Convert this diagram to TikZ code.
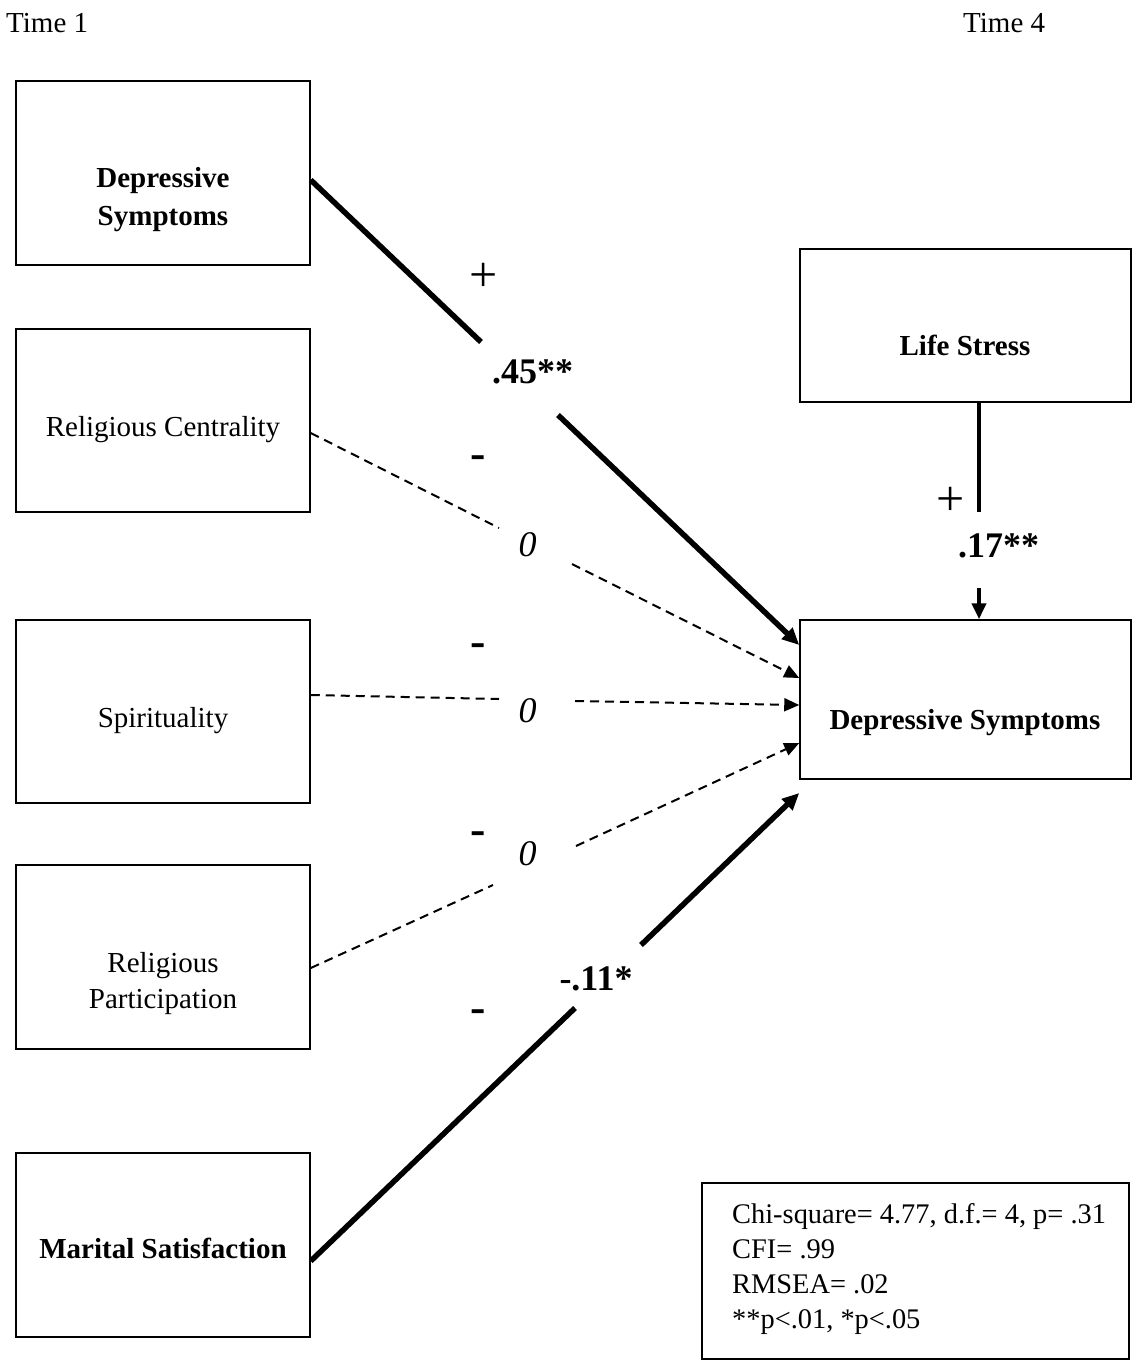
\documentclass[tikz,border=0pt]{standalone}
\usepackage{fontspec}
\setmainfont{Liberation Serif}
\usetikzlibrary{arrows.meta}
\begin{document}
\begin{tikzpicture}[x=1pt,y=-1pt,
  box/.style={draw=black,line width=1.5pt,inner sep=0pt},
  lbox/.style={box,minimum width=294pt},
  txt/.style={font=\fontsize{29}{35}\selectfont,inner sep=0pt,anchor=base},
  stxt/.style={font=\fontsize{28.4}{35}\selectfont,inner sep=0pt,anchor=base west},
  btxt/.style={font=\fontsize{29}{35}\selectfont\bfseries,inner sep=0pt,anchor=base},
  coef/.style={font=\fontsize{36}{40}\selectfont\bfseries,inner sep=0pt,anchor=base},
  zero/.style={font=\fontsize{36}{40}\selectfont\itshape,inner sep=0pt,anchor=base},
  plus/.style={font=\fontsize{50}{50}\selectfont,inner sep=0pt},
  neg/.style={font=\fontsize{46}{46}\selectfont\bfseries,inner sep=0pt,anchor=base},
  sol/.style={line width=5.5pt},
  das/.style={line width=2pt,dash pattern=on 9pt off 6pt},
  stip/.style={-{Triangle[length=17pt,width=15pt]}},
  dtip/.style={-{Triangle[length=15pt,width=13pt]}}]

\fill[white] (0,0) rectangle (1134,1363);
\useasboundingbox (0,0) rectangle (1134,1363);

% headers
\node[txt,anchor=base west] (time1) at (6,32) {Time 1};
\node[txt,anchor=base west] (time4) at (963,32) {Time 4};

% left boxes
\node[lbox,minimum height=184pt] (b1) at (163,173) {};
\node[lbox,minimum height=183pt] (b2) at (163,420.5) {};
\node[lbox,minimum height=183pt] (b3) at (163,711.5) {};
\node[lbox,minimum height=184pt] (b4) at (163,957) {};
\node[lbox,minimum height=184pt] (b5) at (163,1245) {};

\node[btxt] (b1t1) at (163,187) {Depressive};
\node[btxt] (b1t2) at (163,225) {Symptoms};
\node[txt] (b2t) at (163,436) {Religious Centrality};
\node[txt] (b3t) at (163,727) {Spirituality};
\node[txt] (b4t1) at (163,972) {Religious};
\node[txt] (b4t2) at (163,1008) {Participation};
\node[btxt] (b5t) at (163,1258) {Marital Satisfaction};

% right boxes
\node[box,minimum width=331pt,minimum height=153pt] (ls) at (965.5,325.5) {};
\node[btxt] (lst) at (965,355) {Life Stress};
\node[box,minimum width=331pt,minimum height=159pt] (dsr) at (965.5,699.5) {};
\node[btxt] (dsrt) at (965,729) {Depressive Symptoms};

% stats box
\node[box,line width=2pt,minimum width=427pt,minimum height=176pt] (stats) at (915.5,1271) {};
\node[stxt] (s1) at (732,1223) {Chi-square= 4.77, d.f.= 4, p= .31};
\node[stxt] (s2) at (732,1258) {CFI= .99};
\node[stxt] (s3) at (732,1293) {RMSEA= .02};
\node[stxt] (s4) at (732,1328) {**p<.01, *p<.05};

% gap coordinates
\coordinate (g1a) at (481,342);   \coordinate (g1b) at (558,415);
\coordinate (g2a) at (499,528);   \coordinate (g2b) at (572,564);
\coordinate (g3a) at (499,699);   \coordinate (g3b) at (575,701);
\coordinate (g4a) at (493,885);   \coordinate (g4b) at (576,846);
\coordinate (g5a) at (575,1008);  \coordinate (g5b) at (641,945);
\coordinate (g6a) at (979,512);   \coordinate (g6b) at (979,588);

% connectors
\draw[sol] ([yshift=-7pt]b1.east) -- (g1a);
\draw[sol,stip] (g1b) -- ([yshift=54.5pt]dsr.west);
\draw[das] ([yshift=-12.5pt]b2.east) -- (g2a);
\draw[das,dtip] (g2b) -- ([yshift=21.5pt]dsr.west);
\draw[das] ([yshift=16.5pt]b3.east) -- (g3a);
\draw[das,dtip] (g3b) -- ([yshift=-5.5pt]dsr.west);
\draw[das] ([yshift=-11pt]b4.east) -- (g4a);
\draw[das,dtip] (g4b) -- ([yshift=-43.5pt]dsr.west);
\draw[sol] ([yshift=-16pt]b5.east) -- (g5a);
\draw[sol,stip] (g5b) -- ([yshift=-93.5pt]dsr.west);
\draw[line width=4.5pt] ([xshift=13.5pt]ls.south) -- (g6a);
\draw[line width=4.5pt,-{Triangle[length=16pt,width=14pt]}] (g6b) -- ([xshift=13.5pt]dsr.north);

% coefficient labels
\node[coef] (c1) at (532.5,383) {.45**};
\node[coef] (c2) at (998.5,557) {.17**};
\node[coef] (c3) at (596,990) {-.11*};
\node[zero] (z1) at (527.5,556) {0};
\node[zero] (z2) at (527.5,722) {0};
\node[zero] (z3) at (527.5,865) {0};

% sign labels
\node[plus] (p1) at (483.5,277.5) {+};
\node[plus] (p2) at (950.5,501) {+};
\node[neg] (n1) at (478,468) {-};
\node[neg] (n2) at (478,656) {-};
\node[neg] (n3) at (478,844) {-};
\node[neg] (n4) at (478,1022) {-};
\end{tikzpicture}
\end{document}
